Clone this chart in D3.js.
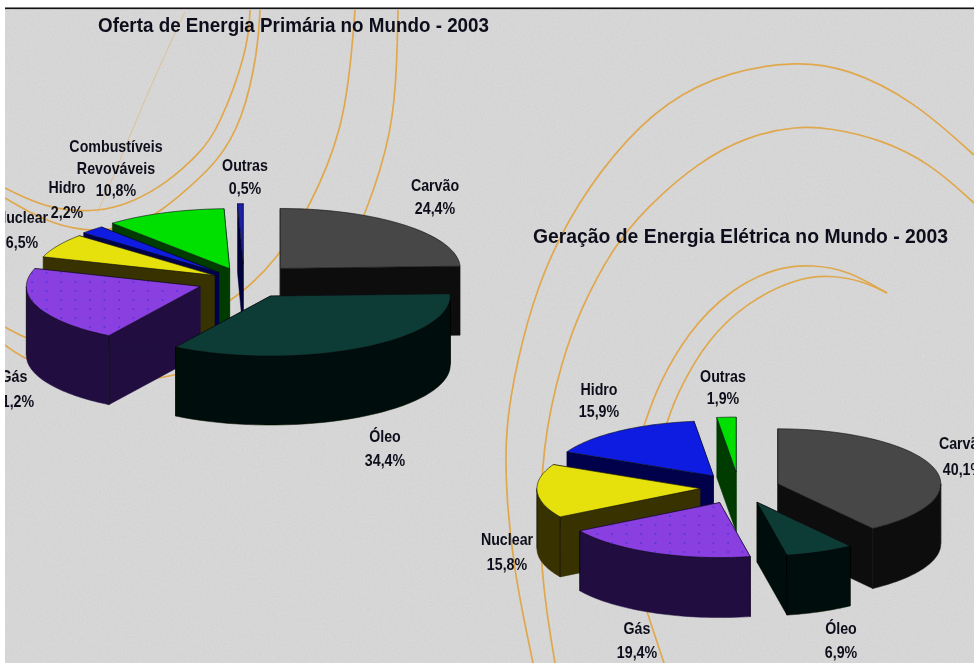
<!DOCTYPE html>
<html lang="pt"><head><meta charset="utf-8">
<style>html,body{margin:0;padding:0;background:#fff;overflow:hidden}svg{display:block}
text{font-family:"Liberation Sans",Arial,sans-serif;font-weight:bold;fill:#10101c;text-anchor:middle}</style>
<script src="https://cdn.jsdelivr.net/npm/d3@7/dist/d3.min.js"></script>
</head><body><svg id="c" width="974" height="663"></svg>
<script>
// ---- data ----
const titlePrimary = "Oferta de Energia Primária no Mundo - 2003";
const titleElectric = "Geração de Energia Elétrica no Mundo - 2003";
const categoriesPrimary = ["Carvão","Óleo","Gás","Nuclear","Hidro","Combustíveis|Revováveis","Outras"];
const valuesPrimary = [24.4,34.4,21.2,6.5,2.2,10.8,0.5];
const categoriesElectric = ["Carvão","Óleo","Gás","Nuclear","Hidro","Outras"];
const valuesElectric = [40.1,6.9,19.4,15.8,15.9,1.9];

// ---- styling ----
const topColorsPrimary  = ["#474747","#0c3b35","#8a40e0","#e6e00e","#0b1fe0","#00e000","#1c22a8"];
const sideColorsPrimary = ["#100e0e","#000a07","#200d40","#393300","#00004c","#003a00","#00003c"];
const topColorsElectric  = ["#474747","#0c3b35","#8a40e0","#e6e00e","#0b1fe0","#00e000"];
const sideColorsElectric = ["#100e0e","#000a07","#200d40","#393300","#00004c","#003a00"];
const explodePrimary  = [.29,.29,.26,.19,.2,.22,.29];
const explodeElectric = [.25,.28,.29,.24,.27,.29];
const radiusPrimary  = [1,1,.965,1,1,1,1];
const radiusElectric = [1,.98,1,1,1,1];
const layoutPrimary  = {cx:244,cy:281,rx:180,ry:60,depth:69};
const layoutElectric = {cx:739,cy:488,rx:163,ry:55,depth:60};
// label anchor [x, baseline of first line, line spacing]
const labelsPrimary = [[435,191,23],[385,442,24],[14,382,25],[22,223,25],[67,193,25],[116,152,22],[245,171,23]];
const labelsElectric = [[963,449,26],[841,634,24],[637,634,24],[507,545,25],[599,395,22],[723,382,22]];

// decorative arcs behind the charts
const arcs = [
 [[185,12],[160,65],[132,130],[110,185],[97,213]],
 [[250,10],[248,50],[218,130],[200,153],[167,183],[133,202],[100,212],[50,210],[5,188]],
 [[260,10],[258,50],[243,120],[217,163],[183,193],[140,228],[80,232],[43,220],[5,198]],
 [[355,10],[352,50],[343,130],[310,207],[277,260],[233,303],[150,345],[80,355],[28,340],[5,327]],
 [[398,10],[397,60],[393,130],[367,213],[330,290],[260,350],[175,378],[100,385],[28,362],[5,345]],
 [[974,155],[913,100],[847,68],[797,61],[730,71],[667,100],[613,153],[567,220],[537,287],[517,360],[505,430],[506,490],[513,567],[533,663]],
 [[974,203],[930,163],[880,139],[830,128],[797,126],[747,136],[697,163],[647,207],[613,247],[580,310],[562,360],[542,443],[538,560],[555,663]],
 [[887,293],[847,270],[813,265],[780,266],[730,289],[687,333],[657,388],[647,417],[625,480],[630,560],[653,630],[664,663]],
 [[887,293],[863,281],[830,275],[797,278],[747,302],[707,340],[680,388],[668,417],[650,480]]
];

const svg = d3.select("#c");
const defs = svg.append("defs");
const noise = defs.append("filter").attr("id","noise").attr("x",0).attr("y",0).attr("width","100%").attr("height","100%");
noise.append("feTurbulence").attr("type","fractalNoise").attr("baseFrequency",.55).attr("numOctaves",2).attr("seed",4).attr("result","n");
noise.append("feColorMatrix").attr("in","n").attr("type","matrix")
  .attr("values","0 0 0 0 0.55  0 0 0 0 0.55  0 0 0 0 0.55  .55 0 0 0 -.12").attr("result","g");
noise.append("feBlend").attr("in","SourceGraphic").attr("in2","g").attr("mode","normal");
noise.append("feComposite").attr("in","g").attr("in2","SourceGraphic").attr("operator","over");
defs.append("filter").attr("id","soft").attr("x",-.02).attr("y",-.02).attr("width",1.04).attr("height",1.04)
  .append("feGaussianBlur").attr("stdDeviation",.45);
const pat = defs.append("pattern").attr("id","dots").attr("width",14.5).attr("height",9).attr("patternUnits","userSpaceOnUse");
pat.append("circle").attr("cx",3).attr("cy",3).attr("r",.8).attr("fill","#2a2ad8");

svg.append("rect").attr("width",974).attr("height",663).attr("fill","#d9d9d9").attr("filter","url(#noise)");
const root = svg.append("g").attr("filter","url(#soft)");

const curve = d3.line().curve(d3.curveBasis);
root.append("g").selectAll("path").data(arcs).join("path")
  .attr("d",curve).attr("fill","none").attr("stroke","#e0a84e")
  .attr("stroke-width",(d,i)=>i===0?.8:1.7).attr("opacity",(d,i)=>i===0?.6:1);

function drawPie(values,cats,tops,sides,explode,radius,L,labels,dotIndex){
  const arcsData = d3.pie().sort(null)(values).map((d,i)=>{
    const mid=(d.startAngle+d.endAngle)/2;
    const ax=L.cx+explode[i]*L.rx*Math.sin(mid), ay=L.cy-explode[i]*L.ry*Math.cos(mid);
    return {...d,i,ax,ay};
  });
  const pt=(d,a)=>[d.ax+radius[d.i]*L.rx*Math.sin(a),d.ay-radius[d.i]*L.ry*Math.cos(a)];
  const line=d3.line();
  const order=arcsData.slice().sort((a,b)=>a.ay-b.ay);
  const g=root.append("g");
  order.forEach(d=>{
    const s=g.append("g");
    const steps=a=>d3.range(0,41).map(k=>a[0]+(a[1]-a[0])*k/40);
    const wall=p=>p.attr("fill",sides[d.i]).attr("stroke",sides[d.i]).attr("stroke-width",.5).attr("stroke-linejoin","round");
    [d.startAngle,d.endAngle].forEach(a=>{
      const p=pt(d,a);
      wall(s.append("path")).attr("d",line([[d.ax,d.ay],p,[p[0],p[1]+L.depth],[d.ax,d.ay+L.depth]])+"Z");
    });
    const a0=Math.max(d.startAngle,Math.PI/2),a1=Math.min(d.endAngle,Math.PI*1.5);
    if(a1>a0){
      const up=steps([a0,a1]).map(a=>pt(d,a));
      const dn=up.slice().reverse().map(p=>[p[0],p[1]+L.depth]);
      wall(s.append("path")).attr("d",line(up.concat(dn))+"Z");
      // corner edges of the front wall
      [a0,a1].forEach(a=>{
        const p=pt(d,a);
        s.append("path").attr("d",line([p,[p[0],p[1]+L.depth]])).attr("stroke","#050505").attr("stroke-width",.6);
      });
    }
    const topPts=[[d.ax,d.ay]].concat(steps([d.startAngle,d.endAngle]).map(a=>pt(d,a)));
    s.append("path").attr("d",line(topPts)+"Z").attr("fill",tops[d.i]).attr("stroke","#0a0a12").attr("stroke-width",.6).attr("stroke-linejoin","round");
    if(d.i===dotIndex) s.append("path").attr("d",line(topPts)+"Z").attr("fill","url(#dots)");
  });
  const fmt=d3.format(".1f");
  labels.forEach((l,i)=>{
    const lines=cats[i].split("|").concat([fmt(values[i]).replace(".",",")+"%"]);
    lines.forEach((t,k)=>{
      root.append("text").attr("transform",`translate(${l[0]},${l[1]+k*l[2]}) scale(.89,1)`)
        .attr("font-size",16).text(t);
    });
  });
}
drawPie(valuesPrimary,categoriesPrimary,topColorsPrimary,sideColorsPrimary,explodePrimary,radiusPrimary,layoutPrimary,labelsPrimary,2);
drawPie(valuesElectric,categoriesElectric,topColorsElectric,sideColorsElectric,explodeElectric,radiusElectric,layoutElectric,labelsElectric,2);

[[titlePrimary,293.5,32,391],[titleElectric,740.5,243,415]].forEach(t=>{
  root.append("text").attr("x",t[1]).attr("y",t[2]).attr("font-size",21)
    .attr("textLength",t[3]).attr("lengthAdjust","spacingAndGlyphs").text(t[0]);
});

// image frame: white margin and black top rule
svg.append("rect").attr("x",0).attr("y",0).attr("width",5).attr("height",663).attr("fill","#fff");
svg.append("rect").attr("x",0).attr("y",0).attr("width",974).attr("height",7.5).attr("fill","#fff");
svg.append("rect").attr("x",5).attr("y",7.5).attr("width",969).attr("height",1.6).attr("fill","#111");
</script></body></html>
